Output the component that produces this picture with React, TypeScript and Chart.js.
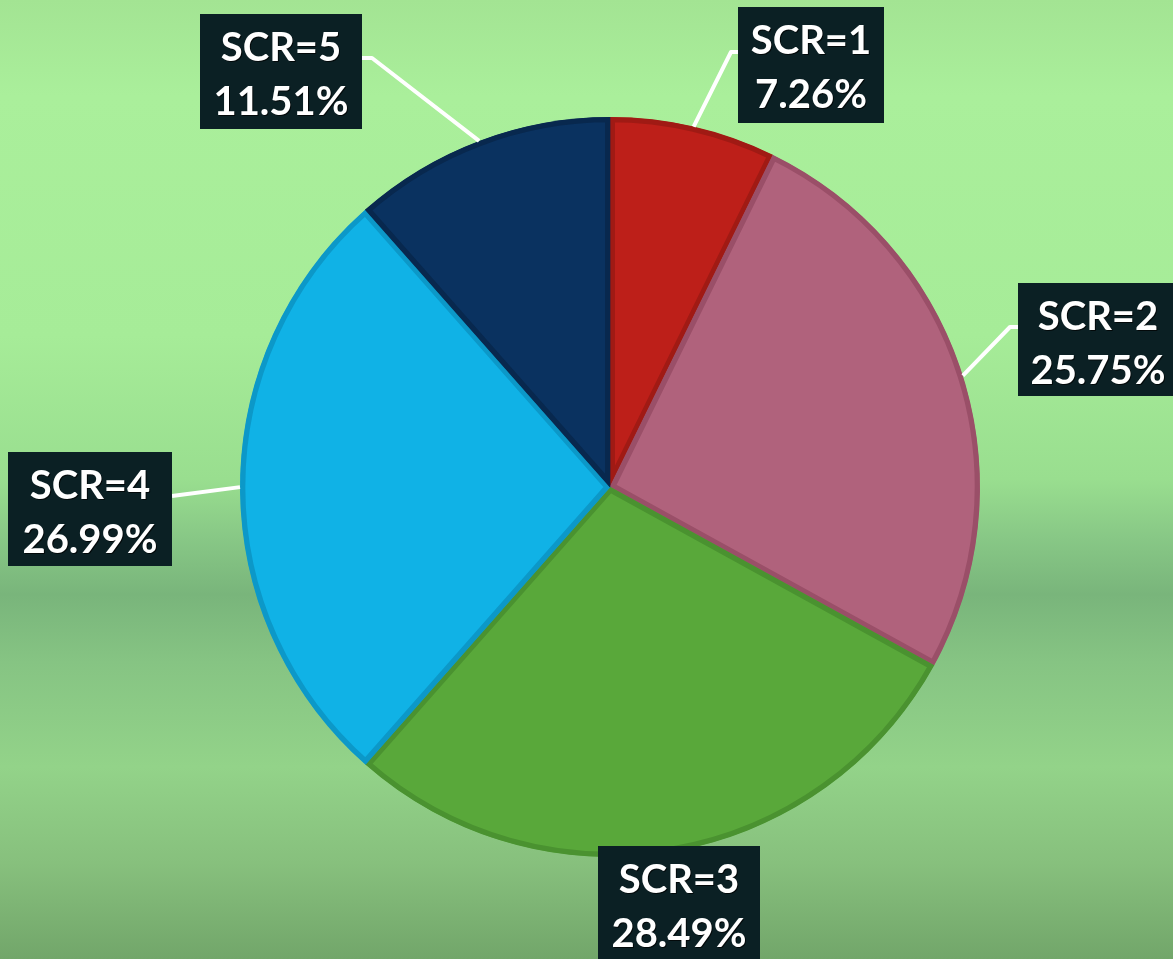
import React, { useEffect, useRef } from "react";
import { Chart, registerables } from "chart.js";

Chart.register(...registerables);

const categories = ["SCR=1", "SCR=2", "SCR=3", "SCR=4", "SCR=5"];
const shares = [7.26, 25.75, 28.49, 26.99, 11.51];
const percentLabels = ["7.26%", "25.75%", "28.49%", "26.99%", "11.51%"];

const sliceColors = ["#bd1f19", "#b0627c", "#59a83a", "#10b2e6", "#0a3260"];
const edgeColors = ["#a01a14", "#9a4f68", "#4a9230", "#0c98c8", "#08284e"];

// label box layout (px): box rect, optional elbow point, anchor on box edge
const labelBoxes = [
  { x: 738, y: 7, w: 146, h: 116, elbow: [731, 52], anchor: [738, 52] },
  { x: 1018, y: 283, w: 160, h: 113, elbow: [1010, 327], anchor: [1018, 327] },
  { x: 598, y: 846, w: 162, h: 122, elbow: null, anchor: null },
  { x: 8, y: 452, w: 164, h: 114, elbow: null, anchor: [172, 496] },
  { x: 200, y: 14, w: 162, h: 115, elbow: [372, 58], anchor: [362, 58] },
];

const bgPlugin = {
  id: "bg",
  beforeDraw(chart: any) {
    const { ctx, width, height } = chart;
    const g = ctx.createLinearGradient(0, 0, 0, height);
    g.addColorStop(0, "#a3e493");
    g.addColorStop(0.1, "#aaef9b");
    g.addColorStop(0.35, "#a6ec98");
    g.addColorStop(0.5, "#99de8f");
    g.addColorStop(0.56, "#88c886");
    g.addColorStop(0.62, "#79b57b");
    g.addColorStop(0.69, "#86c483");
    g.addColorStop(0.8, "#93d389");
    g.addColorStop(0.9, "#87c07d");
    g.addColorStop(1, "#72a66a");
    ctx.save();
    ctx.fillStyle = g;
    ctx.fillRect(0, 0, width, height);
    ctx.restore();
  },
};

const labelPlugin = {
  id: "boxLabels",
  afterDatasetsDraw(chart: any) {
    const { ctx } = chart;
    const meta = chart.getDatasetMeta(0);
    meta.data.forEach((arc: any, i: number) => {
      const p = arc.getProps(["x", "y", "startAngle", "endAngle", "outerRadius"], true);
      const mid = (p.startAngle + p.endAngle) / 2;
      const ex = p.x + Math.cos(mid) * p.outerRadius;
      const ey = p.y + Math.sin(mid) * p.outerRadius;
      const b = labelBoxes[i];
      ctx.save();
      if (b.anchor) {
        ctx.strokeStyle = "#ffffff";
        ctx.lineWidth = 4;
        ctx.lineJoin = "round";
        ctx.beginPath();
        ctx.moveTo(ex, ey);
        if (b.elbow) ctx.lineTo(b.elbow[0], b.elbow[1]);
        ctx.lineTo(b.anchor[0], b.anchor[1]);
        ctx.stroke();
      }
      ctx.fillStyle = "#0b2024";
      ctx.fillRect(b.x, b.y, b.w, b.h);
      ctx.fillStyle = "#ffffff";
      ctx.textAlign = "center";
      ctx.textBaseline = "middle";
      ctx.font = "bold 40px Lato";
      ctx.shadowColor = "rgba(0,0,0,0.7)";
      ctx.shadowOffsetX = 1;
      ctx.shadowOffsetY = 1;
      const cx = b.x + b.w / 2;
      ctx.fillText(categories[i], cx, b.y + 34);
      ctx.fillText(percentLabels[i], cx, b.y + 88);
      ctx.restore();
    });
  },
};

export default function App() {
  const ref = useRef<HTMLCanvasElement>(null);
  useEffect(() => {
    document.body.style.margin = "0";
    const chart = new Chart(ref.current as HTMLCanvasElement, {
      type: "pie",
      data: {
        labels: categories,
        datasets: [
          {
            data: shares,
            backgroundColor: sliceColors,
            borderColor: edgeColors,
            borderWidth: 5,
            borderAlign: "inner",
          } as any,
        ],
      },
      options: {
        animation: false,
        responsive: false,
        devicePixelRatio: 1,
        layout: { padding: { left: 240, right: 193, top: 117, bottom: 102 } },
        plugins: {
          legend: { display: false },
          tooltip: { enabled: false },
          title: { display: false },
        },
      },
      plugins: [bgPlugin, labelPlugin],
    });
    return () => chart.destroy();
  }, []);
  return (
    <div style={{ position: "fixed", left: 0, top: 0, width: 1173, height: 959 }}>
      <canvas ref={ref} width={1173} height={959} />
    </div>
  );
}
